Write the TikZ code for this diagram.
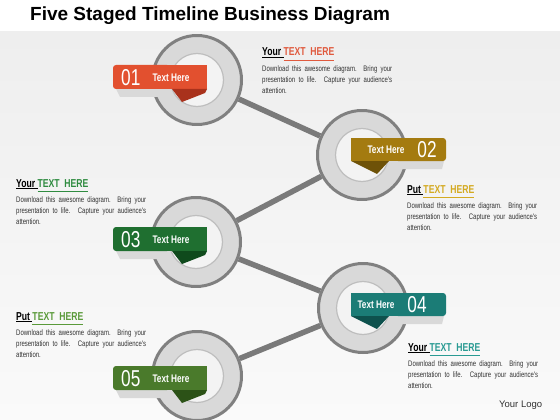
\documentclass[tikz,border=0pt]{standalone}
\usepackage{fontspec}
\setmainfont{Liberation Sans}
\newfontfamily\narrowfont[FakeStretch=0.75]{Liberation Sans}
\usetikzlibrary{positioning}

\definecolor{bgtop}{HTML}{EEEEEE}
\definecolor{bgbottom}{HTML}{FAFAFA}
\definecolor{rimgray}{HTML}{808080}
\definecolor{ringgray}{HTML}{D9D9D9}
\definecolor{holeedge}{HTML}{BEBEBE}
\definecolor{holewhite}{HTML}{F3F3F3}
\definecolor{linkgray}{HTML}{7A7A7A}
\definecolor{bodygray}{HTML}{333333}
\definecolor{tagred}{HTML}{E2502F}
\definecolor{foldred}{HTML}{A9321C}
\definecolor{taggold}{HTML}{A47B10}
\definecolor{foldgold}{HTML}{6E5208}
\definecolor{taggreen}{HTML}{1F6F30}
\definecolor{foldgreen}{HTML}{0F4A1C}
\definecolor{tagteal}{HTML}{1B7C76}
\definecolor{foldteal}{HTML}{0E514D}
\definecolor{tagolive}{HTML}{4A7A2B}
\definecolor{foldolive}{HTML}{2C5217}
\definecolor{headred}{HTML}{E05A3E}
\definecolor{headgold}{HTML}{D4AA22}
\definecolor{headgreen}{HTML}{2F8B40}
\definecolor{headteal}{HTML}{2A9B93}
\definecolor{headolive}{HTML}{5A9A3A}

\newcommand{\blurbtext}{%
  \makebox[130pt][s]{Download this awesome diagram. Bring your}\\
  \makebox[130pt][s]{presentation to life. Capture your audience's}\\
  attention.}

\begin{document}
\begin{tikzpicture}[
        x = 1pt, y = -1pt, % one unit is one pixel, y runs down
        node distance = 5pt, % heading to text
        line join = round
      ]

      \tikzstyle{ring}=[circle, draw=rimgray, line width=3pt, fill=ringgray, minimum size=89pt, inner sep=0pt]
      \tikzstyle{hole}=[circle, draw=holeedge, line width=1.2pt, fill=holewhite, minimum size=53pt, inner sep=0pt]
      \tikzstyle{link}=[draw=linkgray, line width=5.5pt]
      \tikzstyle{num}=[text=white, inner sep=0pt, font=\narrowfont\fontsize{23}{23}\selectfont]
      \tikzstyle{tagtext}=[text=white, inner sep=0pt, font=\narrowfont\bfseries\fontsize{11}{11}\selectfont]
      \tikzstyle{head}=[anchor=base west, inner sep=0pt, font=\narrowfont\bfseries\fontsize{11.5}{11.5}\selectfont]
      \tikzstyle{blurb}=[inner sep=0pt, align=left, text=bodygray, font=\narrowfont\fontsize{8}{11}\selectfont]

      % background
      \useasboundingbox (0,0) rectangle (560,420);
      \fill[white] (0,0) rectangle (560,420);
      \shade[top color=bgtop, bottom color=bgbottom] (0,32) rectangle (560,420);

      \node[anchor=west, inner sep=0pt, font=\bfseries\fontsize{19}{19}\selectfont] (title) at (30,16) {Five Staged Timeline Business Diagram};

      % rings
      \foreach \i/\x/\y in {1/197/80, 2/362/155, 3/196/242, 4/363/308, 5/197/376}
        \node[ring] (c\i) at (\x,\y) {};

      \draw[link] (c1) -- (c2);
      \draw[link] (c2) -- (c3);
      \draw[link] (c3) -- (c4);
      \draw[link] (c4) -- (c5);

      \foreach \i in {1,...,5}
        \node[hole] (o\i) at (c\i) {};

      % tags on the left
      \foreach \i/\t/\c in {1/65/red, 3/227/green, 5/366/olive} {
        \fill[gray!30] (116,\t+24) -- (166,\t+24) -- (161,\t+32) -- (120,\t+32) -- cycle;
        \fill[tag\c, rounded corners=3pt] (113,\t) rectangle (170,\t+24);
        \fill[tag\c] (160,\t) rectangle (207,\t+24);
        \fill[fold\c] (172,\t+24) -- (207,\t+24) -- (205,\t+28) -- (182,\t+37) -- cycle;
        \node[num, anchor=west] (n\i) at (121,\t+12.5) {0\i};
        \node[tagtext] (t\i) at (171,\t+12.5) {Text Here};
      }

      % tags on the right
      \foreach \i/\t/\c/\a/\b in {2/138/gold/386/427, 4/293/teal/376/417} {
        \fill[gray!30] (398,\t+23) -- (444,\t+23) -- (442,\t+31) -- (402,\t+31) -- cycle;
        \fill[tag\c, rounded corners=3pt] (395,\t) rectangle (446,\t+23);
        \fill[tag\c] (351,\t) rectangle (405,\t+23);
        \fill[fold\c] (351,\t+23) -- (389,\t+23) -- (377,\t+36) -- cycle;
        \node[tagtext] (t\i) at (\a,\t+11.5) {Text Here};
        \node[num] (n\i) at (\b,\t+11.5) {0\i};
      }

      % text blocks
      \node[head] (hd1) at (262,56) {\underline{Your\ }\textcolor{headred}{\underline{TEXT\ \ HERE\vphantom{y}}}};
      \node[blurb, below=of hd1.south west, anchor=north west] (bd1) {\blurbtext};

      \node[head] (hd2) at (407,193) {\underline{Put\ }\textcolor{headgold}{\underline{TEXT\ \ HERE\vphantom{y}}}};
      \node[blurb, below=of hd2.south west, anchor=north west] (bd2) {\blurbtext};

      \node[head] (hd3) at (16,187) {\underline{Your\ }\textcolor{headgreen}{\underline{TEXT\ \ HERE\vphantom{y}}}};
      \node[blurb, below=of hd3.south west, anchor=north west] (bd3) {\blurbtext};

      \node[head] (hd4) at (408,351) {\underline{Your\ }\textcolor{headteal}{\underline{TEXT\ \ HERE\vphantom{y}}}};
      \node[blurb, below=of hd4.south west, anchor=north west] (bd4) {\blurbtext};

      \node[head] (hd5) at (16,320) {\underline{Put\ }\textcolor{headolive}{\underline{TEXT\ \ HERE\vphantom{y}}}};
      \node[blurb, below=of hd5.south west, anchor=north west] (bd5) {\blurbtext};

      \node[anchor=west, inner sep=0pt, text=bodygray, font=\fontsize{9.5}{10}\selectfont] (logo) at (499,405) {Your Logo};

    \end{tikzpicture}
\end{document}
